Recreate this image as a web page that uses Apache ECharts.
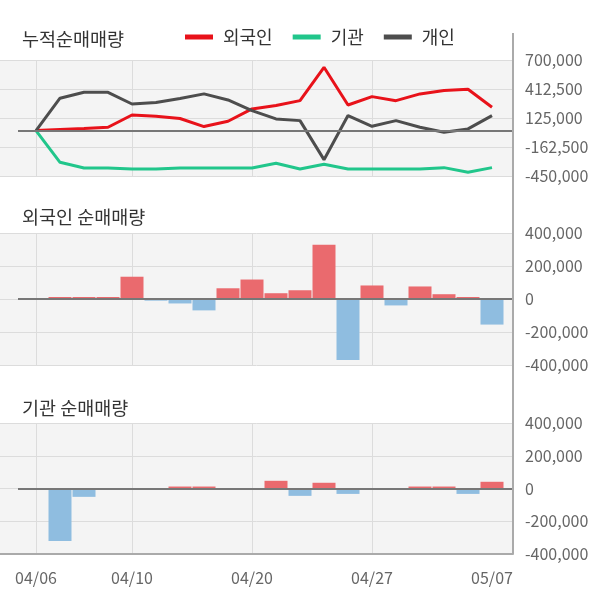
<!DOCTYPE html>
<html><head><meta charset="utf-8">
<script src="https://cdn.jsdelivr.net/npm/echarts@6/dist/echarts.min.js"></script>
<style>html,body{margin:0;padding:0;background:#fff}#c{width:600px;height:604px}</style>
</head><body><div id="c"></div><script>
const dates = ['04/06','04/07','04/08','04/09','04/10','04/13','04/14','04/16','04/17','04/20','04/21','04/22','04/23','04/24','04/27','04/28','04/29','05/04','05/06','05/07'];
const foreignCum = [0, 10000, 20000, 33000, 155000, 142000, 120000, 40000, 93000, 215000, 248000, 297000, 628000, 254000, 337000, 297000, 364000, 397000, 410000, 231000];
const instCum = [0, -314000, -370000, -370000, -380000, -380000, -370000, -370000, -370000, -370000, -324000, -380000, -334000, -380000, -380000, -380000, -380000, -367000, -413000, -367000];
const indivCum = [0, 321000, 380000, 380000, 264000, 278000, 318000, 364000, 304000, 198000, 116000, 99000, -288000, 149000, 43000, 99000, 33000, -17000, 17000, 149000];
const foreignDaily = [0, 12000, 12000, 12000, 135000, -10000, -27000, -69000, 65000, 118000, 35000, 53000, 329000, -370000, 82000, -39000, 76000, 29000, 12000, -155000];
const instDaily = [0, -320000, -51000, 0, 0, 0, 12000, 12000, 0, 0, 47000, -45000, 35000, -33000, 0, 0, 12000, 12000, -33000, 41000];
const seriesNames = ['외국인', '기관', '개인'];
const panelTitles = ['누적순매매량', '외국인 순매매량', '기관 순매매량'];
const labelIdx = [0, 4, 9, 14, 19];
const vGridIdx = [0, 4, 9, 14];
const cumTicks = [-450000, -162500, 125000, 412500, 700000];
const dailyTicks = [-400000, -200000, 0, 200000, 400000];

const X_MIN = -1.5, X_MAX = 19.875, ZERO_START = -0.75;
const FONT = "'Noto Sans CJK KR', 'Noto Sans', sans-serif";
const fmt = v => Math.round(v).toLocaleString('en-US');
const pairs = arr => arr.map((v, i) => [i, v]);
const RED_BAR = '#ea6a6e', BLUE_BAR = '#8fbde0';

const grids = [
  {left: 0, top: 60, width: 513, height: 116},
  {left: 0, top: 233, width: 513, height: 132},
  {left: 0, top: 423, width: 513, height: 131}
].map(g => Object.assign(g, {show: true, backgroundColor: '#f4f4f4', borderWidth: 0}));

function xAxis(idx, showLabels) {
  return {
    type: 'value', gridIndex: idx, min: X_MIN, max: X_MAX,
    axisLine: {show: showLabels, onZero: false, lineStyle: {color: '#aaaaaa', width: 2}},
    axisTick: {show: false, customValues: vGridIdx},
    axisLabel: {show: showLabels, customValues: labelIdx, formatter: v => dates[Math.round(v)] || '',
      fontSize: 16, color: '#666', fontFamily: FONT, margin: 16},
    splitLine: {show: true, lineStyle: {color: '#dcdcdc', width: 1}}
  };
}
function yAxis(idx, ticks) {
  return {
    type: 'value', gridIndex: idx, position: 'right',
    min: ticks[0], max: ticks[ticks.length - 1],
    axisLine: {show: false},
    axisTick: {show: false, customValues: ticks},
    axisLabel: {customValues: ticks, formatter: fmt, fontSize: 16, color: '#666', fontFamily: FONT, margin: 12},
    splitLine: {show: true, lineStyle: {color: '#dcdcdc', width: 1}}
  };
}
function zeroLine() {
  return {
    silent: true, symbol: 'none', label: {show: false},
    lineStyle: {color: '#777', width: 2, type: 'solid'},
    data: [[{coord: [ZERO_START, 0]}, {coord: [X_MAX, 0]}]]
  };
}
const barColor = p => (p.value[1] >= 0 ? RED_BAR : BLUE_BAR);

const chart = echarts.init(document.getElementById('c'), null, {renderer: 'canvas'});
chart.setOption({
  animation: false,
  textStyle: {fontFamily: FONT},
  title: panelTitles.map((t, i) => ({
    text: t, left: 22, top: [30, 208, 399][i], padding: 0,
    textStyle: {fontSize: 18.5, fontWeight: 'normal', color: '#333', fontFamily: FONT}
  })),
  legend: {
    data: seriesNames, left: 185, top: 28, padding: 0, itemGap: 20,
    icon: 'rect', itemWidth: 28, itemHeight: 5,
    textStyle: {fontSize: 18, color: '#333', fontFamily: FONT, padding: [0, 0, 0, 5]}
  },
  grid: grids,
  xAxis: [xAxis(0, false), xAxis(1, false), xAxis(2, true)],
  yAxis: [yAxis(0, cumTicks), yAxis(1, dailyTicks), yAxis(2, dailyTicks)],
  series: [
    {type: 'bar', xAxisIndex: 0, yAxisIndex: 0, data: [], markLine: zeroLine(), z: 1},
    {name: seriesNames[0], type: 'line', xAxisIndex: 0, yAxisIndex: 0, data: pairs(foreignCum),
      symbol: 'none', color: '#e8121a', lineStyle: {width: 3}, z: 3},
    {name: seriesNames[1], type: 'line', xAxisIndex: 0, yAxisIndex: 0, data: pairs(instCum),
      symbol: 'none', color: '#21c68b', lineStyle: {width: 3}, z: 3},
    {name: seriesNames[2], type: 'line', xAxisIndex: 0, yAxisIndex: 0, data: pairs(indivCum),
      symbol: 'none', color: '#4d4d4d', lineStyle: {width: 3}, z: 3},
    {type: 'bar', xAxisIndex: 1, yAxisIndex: 1, data: pairs(foreignDaily), barWidth: 23,
      itemStyle: {color: barColor}, markLine: zeroLine()},
    {type: 'bar', xAxisIndex: 2, yAxisIndex: 2, data: pairs(instDaily), barWidth: 23,
      itemStyle: {color: barColor}, markLine: zeroLine()}
  ],
  graphic: [{
    type: 'line', silent: true, z: 100,
    shape: {x1: 513, y1: 33, x2: 513, y2: 554},
    style: {stroke: '#aaaaaa', lineWidth: 2}
  }]
});
</script></body></html>
